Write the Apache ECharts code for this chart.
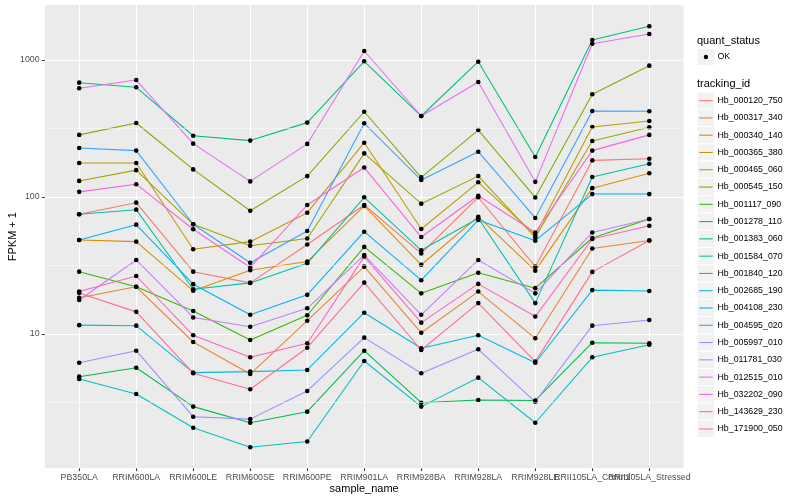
<!DOCTYPE html>
<html><head><meta charset="utf-8">
<script src="https://cdn.jsdelivr.net/npm/echarts@6/dist/echarts.min.js"></script>
<style>html,body{margin:0;padding:0;background:#fff}#c{width:800px;height:500px}</style>
</head><body><div id="c"></div>
<script>
const categories = ['PB350LA','RRIM600LA','RRIM600LE','RRIM600SE','RRIM600PE','RRIM901LA','RRIM928BA','RRIM928LA','RRIM928LE','RRII105LA_Control','RRII105LA_Stressed'];
const yTicks = [10, 100, 1000];
const minorBreaks = [3.162, 31.62, 316.2];
const yMin = 1.046, yMax = 2520;
const trackingIds = ['Hb_000120_750','Hb_000317_340','Hb_000340_140','Hb_000365_380','Hb_000465_060','Hb_000545_150','Hb_001117_090','Hb_001278_110','Hb_001383_060','Hb_001584_070','Hb_001840_120','Hb_002685_190','Hb_004108_230','Hb_004595_020','Hb_005997_010','Hb_011781_030','Hb_012515_010','Hb_032202_090','Hb_143629_230','Hb_171900_050'];
const quantStatus = ['OK'];

// FPKM + 1 per sample, in category order
const Hb_000120_750 = [74.8, 90.9, 28.5, 23.6, 45.0, 87.4, 38.7, 99.5, 31.0, 185, 190];
const Hb_000317_340 = [18.4, 22.1, 8.74, 5.1, 12.5, 31.0, 10.2, 20.4, 9.3, 42.1, 48.1];
const Hb_000340_140 = [48.5, 47.2, 20.7, 29.2, 33.8, 86.0, 32.0, 71.8, 29.0, 116, 149];
const Hb_000365_380 = [177, 177, 41.5, 47.2, 76.8, 249, 58.4, 128, 52.8, 324, 359];
const Hb_000465_060 = [131, 157, 63.2, 44.1, 49.8, 208, 89.4, 142, 50.8, 256, 323];
const Hb_000545_150 = [284, 347, 159, 79.4, 142, 419, 139, 308, 99.2, 562, 909];
const Hb_001117_090 = [28.5, 22.1, 14.7, 9.04, 13.7, 43.2, 19.8, 28.0, 21.6, 50.2, 69.1];
const Hb_001278_110 = [4.88, 5.67, 2.95, 2.25, 2.71, 7.55, 3.15, 3.30, 3.27, 8.64, 8.55];
const Hb_001383_060 = [683, 632, 280, 258, 349, 978, 390, 972, 196, 1400, 1762];
const Hb_001584_070 = [74.8, 80.8, 21.2, 23.6, 32.8, 99.5, 40.8, 69.9, 16.8, 140, 175];
const Hb_001840_120 = [4.69, 3.65, 2.07, 1.49, 1.64, 6.35, 2.95, 4.80, 2.25, 6.76, 8.35];
const Hb_002685_190 = [11.6, 11.5, 5.22, 5.31, 5.46, 14.3, 7.86, 9.78, 6.17, 20.9, 20.6];
const Hb_004108_230 = [48.5, 62.8, 23.1, 13.8, 19.3, 55.8, 24.7, 67.9, 48.0, 105, 105];
const Hb_004595_020 = [228, 218, 63.2, 33.1, 56.5, 345, 133, 214, 70.3, 424, 422];
const Hb_005997_010 = [6.17, 7.55, 2.49, 2.39, 3.84, 9.40, 5.17, 7.73, 3.20, 11.5, 12.65];
const Hb_011781_030 = [17.7, 34.7, 13.2, 11.3, 15.4, 37.7, 13.8, 34.7, 19.8, 55.1, 69.1];
const Hb_012515_010 = [622, 714, 245, 130, 244, 1163, 390, 691, 129, 1315, 1548];
const Hb_032202_090 = [109, 124, 58.1, 30.6, 87.4, 164, 51.0, 102, 55.1, 218, 284];
const Hb_143629_230 = [20.4, 26.5, 9.78, 6.76, 8.55, 36.7, 12.1, 23.2, 13.4, 49.4, 61.7];
const Hb_171900_050 = [19.9, 14.5, 5.17, 3.95, 7.94, 23.7, 7.64, 16.8, 6.28, 28.4, 48.1];

const seriesValues = [Hb_000120_750, Hb_000317_340, Hb_000340_140, Hb_000365_380, Hb_000465_060, Hb_000545_150, Hb_001117_090, Hb_001278_110, Hb_001383_060, Hb_001584_070, Hb_001840_120, Hb_002685_190, Hb_004108_230, Hb_004595_020, Hb_005997_010, Hb_011781_030, Hb_012515_010, Hb_032202_090, Hb_143629_230, Hb_171900_050];

const palette = ['#F8766D','#EA8331','#D89000','#C09B00','#A3A500','#7CAE00','#39B600','#00BB4E','#00BF7D','#00C1A3','#00BFC4','#00BAE0','#00B0F6','#35A2FF','#9590FF','#C77CFF','#E76BF3','#FA62DB','#FF62BC','#FF6C91'];

const FONT = '"Liberation Sans", Arial, Helvetica, sans-serif';
const P = {left: 44.8, right: 683.5, top: 5, bottom: 468.3};
const catFirst = 79.2, catLast = 649.3;
const keyX = 697.3, keySize = 17.28, keyTop = 92, okTop = 48.4, textX = 717.5;

const lineSeries = trackingIds.map((id, k) => ({
  name: id, type: 'line', xAxisIndex: 0, yAxisIndex: 0,
  data: seriesValues[k], symbol: 'none', color: palette[k],
  lineStyle: {color: palette[k], width: 1.07}, z: 3, silent: true, animation: false
}));

const points = [];
seriesValues.forEach(arr => arr.forEach((v, i) => points.push([categories[i], v])));

const txt = (text, x, y, size, extra) => Object.assign({type: 'text', x, y, z: 10, silent: true,
  style: {text, fontSize: size, fontFamily: FONT, fill: '#000', align: 'left', verticalAlign: 'middle'}}, extra || {});

const graphics = [
  txt('quant_status', 697, 40.7, 11),
  {type: 'rect', z: 1, silent: true, shape: {x: keyX, y: okTop, width: keySize, height: keySize}, style: {fill: '#F2F2F2', stroke: '#fff', lineWidth: 1}},
  {type: 'circle', z: 10, silent: true, shape: {cx: keyX + keySize / 2, cy: okTop + keySize / 2, r: 2.2}, style: {fill: '#000'}},
  txt(quantStatus[0], textX, okTop + keySize / 2, 8.8),
  txt('tracking_id', 697, 84.3, 11),
  txt('sample_name', (P.left + P.right) / 2, 488.5, 11, {style: {text: 'sample_name', fontSize: 11, fontFamily: FONT, fill: '#000', align: 'center', verticalAlign: 'middle'}}),
  txt('FPKM + 1', 12.5, (P.top + P.bottom) / 2, 11, {rotation: Math.PI / 2, style: {text: 'FPKM + 1', fontSize: 11, fontFamily: FONT, fill: '#000', align: 'center', verticalAlign: 'middle'}})
];
trackingIds.forEach((id, i) => {
  const y0 = keyTop + i * keySize, cy = y0 + keySize / 2;
  graphics.push({type: 'rect', z: 1, silent: true, shape: {x: keyX, y: y0, width: keySize, height: keySize}, style: {fill: '#F2F2F2', stroke: '#fff', lineWidth: 1}});
  graphics.push({type: 'line', z: 5, silent: true, shape: {x1: keyX + 1.9, y1: cy, x2: keyX + keySize - 1.9, y2: cy}, style: {stroke: palette[i], lineWidth: 1.07}});
  graphics.push(txt(id, textX, cy, 8.8));
});

const chart = echarts.init(document.getElementById('c'), null, {renderer: 'canvas'});
chart.setOption({
  animation: false,
  backgroundColor: '#fff',
  textStyle: {fontFamily: FONT},
  grid: [
    {left: catFirst, right: 800 - catLast, top: P.top, bottom: 500 - P.bottom, show: false, z: 2},
    {left: P.left, right: 800 - P.right, top: P.top, bottom: 500 - P.bottom, show: true, backgroundColor: '#EBEBEB', borderWidth: 0, z: 0}
  ],
  xAxis: [
    {type: 'category', gridIndex: 0, data: categories, boundaryGap: false,
     axisLine: {show: false},
     axisTick: {show: true, length: 2.75, lineStyle: {color: '#333333', width: 1.07}},
     axisLabel: {interval: 0, fontSize: 8.8, color: '#4D4D4D', margin: 4.6, fontFamily: FONT},
     splitLine: {show: true, lineStyle: {color: '#FFFFFF', width: 1.07}}},
    {type: 'value', gridIndex: 1, min: 0, max: 1, show: false}
  ],
  yAxis: [
    {type: 'log', logBase: 10, gridIndex: 0, min: yMin, max: yMax, show: false},
    {type: 'log', logBase: 10, gridIndex: 1, min: yMin, max: yMax,
     axisLine: {show: false},
     axisTick: {show: true, length: 2.75, customValues: yTicks, lineStyle: {color: '#333333', width: 1.07}},
     axisLabel: {fontSize: 8.8, color: '#4D4D4D', margin: 5.2, fontFamily: FONT, customValues: yTicks,
       formatter: v => yTicks.some(t => Math.abs(t - v) / t < 1e-6) ? String(Math.round(v)) : ''},
     splitLine: {show: true, lineStyle: {color: '#FFFFFF', width: 1.07}}}
  ],
  graphic: graphics,
  series: [
    {type: 'line', name: '_minor', xAxisIndex: 1, yAxisIndex: 1, data: [], silent: true, z: 1,
     markLine: {silent: true, symbol: 'none', label: {show: false}, animation: false,
       lineStyle: {color: '#FFFFFF', width: 0.53, type: 'solid'},
       data: minorBreaks.map(v => ({yAxis: v}))}},
    ...lineSeries,
    {type: 'scatter', name: quantStatus[0], xAxisIndex: 0, yAxisIndex: 0, data: points, symbol: 'circle',
     symbolSize: 4.6, itemStyle: {color: '#000', opacity: 1}, z: 4, silent: true}
  ]
});
</script></body></html>
